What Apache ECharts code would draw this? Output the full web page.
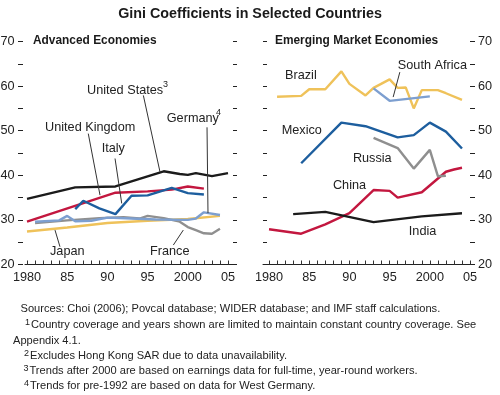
<!DOCTYPE html>
<html><head><meta charset="utf-8">
<script src="https://cdn.jsdelivr.net/npm/echarts@6/dist/echarts.min.js"></script>
<style>html,body{margin:0;padding:0;background:#fff}#c{width:500px;height:395px}</style>
</head><body><div id="c"></div>
<script>
// ---------- Data ----------
const xTickYears = [1980,1981,1982,1983,1984,1985,1986,1987,1988,1989,1990,1991,1992,1993,1994,1995,1996,1997,1998,1999,2000,2001,2002,2003,2004,2005];
const xLabelYears = [1980,1985,1990,1995,2000,2005];
const xLabelText = ['1980','85','90','95','2000','05'];
const yTicks = [20,25,30,35,40,45,50,55,60,65,70];
const yLabelText = ['20','','30','','40','','50','','60','','70'];

// Advanced economies
const usYears = [1980,1986,1991,1997,1999,2000,2001,2003,2005];
const usVals  = [34.7,37.3,37.5,40.9,40.3,40.1,40.5,39.8,40.5];
const ukYears = [1980,1991,1995,1998,2000,2002];
const ukVals  = [29.6,36.1,36.4,36.8,37.5,37.0];
const itYears = [1986,1987,1989,1991,1993,1995,1998,2000,2002];
const itVals  = [32.4,34.3,32.6,31.3,35.4,35.5,37.2,36.0,35.7];
const deYears = [1981,1984,1985,1986,1988,1990,1993,1996,2000,2001,2002,2004];
const deVals  = [29.6,29.9,30.9,29.7,29.8,30.5,30.3,30.1,30.0,30.3,31.7,31.1];
const frYears = [1981,1985,1989,1992,1994,1995,1997,1999,2000,2001,2002,2003,2004];
const frVals  = [29.3,29.9,30.4,30.6,30.3,30.9,30.4,29.6,28.4,27.7,27.0,26.9,28.0];
const jpYears = [1980,1985,1990,1995,2000,2004];
const jpVals  = [27.4,28.3,29.3,29.8,30.2,30.9];

// Emerging market economies
const brYears = [1981,1984,1985,1987,1989,1990,1992,1993,1995,1996,1997,1998,1999,2001,2002,2004];
const brVals  = [57.6,57.8,59.3,59.3,63.3,60.5,57.9,59.6,61.5,59.6,59.7,55.0,59.1,59.1,58.4,56.9];
const zaYears = [1993,1995,2000];
const zaVals  = [59.5,56.7,57.7];
const mxYears = [1984,1989,1992,1996,1998,2000,2002,2004];
const mxVals  = [42.7,51.8,51.0,48.5,49.0,51.8,49.8,46.0];
const ruYears = [1993,1996,1998,2000,2001,2002];
const ruVals  = [48.4,46.1,41.5,45.7,39.8,39.9];
const cnYears = [1980,1984,1987,1990,1993,1995,1996,1999,2002,2003,2004];
const cnVals  = [27.9,26.9,29.0,31.5,36.7,36.5,35.0,36.2,40.8,41.3,41.7];
const inYears = [1983,1987,1993,1999,2004];
const inVals  = [31.3,31.8,29.5,30.8,31.5];

// ---------- Fonts ----------
function hasFont(name){
  const c=document.createElement('canvas').getContext('2d');
  c.font='20px monospace'; const a=c.measureText('United Kingdom Wg 1980').width;
  c.font='20px "'+name+'", monospace'; const b=c.measureText('United Kingdom Wg 1980').width;
  return a!==b;
}
const NARROW = hasFont('Liberation Sans Narrow');
const FF = NARROW ? '"Liberation Sans Narrow", "Liberation Sans", sans-serif' : '"Liberation Sans", Arial, sans-serif';
const K = NARROW ? 1 : 0.82;
const fs = n => Math.round(n*K*10)/10;
const TXT = '#222';

const pairs = (xs, ys) => xs.map((x,i)=>[x, ys[i]]);

const chart = echarts.init(document.getElementById('c'), null, {renderer:'canvas'});

function xAxisCfg(grid, min, max){
  return {
    type:'value', gridIndex:grid, min:min, max:max,
    axisLine:{show:true, lineStyle:{color:'#222', width:1}},
    axisTick:{show:true, inside:true, length:4, customValues:xTickYears, lineStyle:{color:'#333'}},
    minorTick:{show:false},
    axisLabel:{show:true, customValues:xLabelYears, margin:6, color:TXT, fontFamily:FF, fontSize:fs(15.5),
      formatter: v => { const i = xLabelYears.indexOf(Math.round(v)); return i>=0 ? xLabelText[i] : ''; }},
    splitLine:{show:false}
  };
}
function yAxisCfg(grid, pos, offset, showLabel, inside, len, margin){
  return {
    type:'value', gridIndex:grid, position:pos, offset:offset, min:20, max:70, interval:5,
    axisLine:{show:false},
    axisTick:{show:true, inside:inside, length:len, lineStyle:{color:'#222'}},
    axisLabel:{show:showLabel, margin:margin||8, color:TXT, fontFamily:FF, fontSize:fs(15.5),
      formatter: v => { const i = yTicks.indexOf(Math.round(v)); return i>=0 ? yLabelText[i] : ''; }},
    splitLine:{show:false}
  };
}
function line(name, xs, ys, color, xi, yi, z){
  return {name:name, type:'line', xAxisIndex:xi, yAxisIndex:yi, data:pairs(xs,ys), showSymbol:false,
    symbol:'none', smooth:false, z:z||2, lineStyle:{color:color, width:2.4}, itemStyle:{color:color}, animation:false};
}

const C = {black:'#1b1b1b', red:'#c3173f', blue:'#1d5e9e', lblue:'#7d9fd0', gray:'#8f8f8f', yellow:'#efc25a'};

chart.setOption({
  animation:false,
  backgroundColor:'#fff',
  title:{text:'Gini Coefficients in Selected Countries', left:'center', top:2,
    textStyle:{fontFamily:FF, fontWeight:'bold', fontSize:fs(17.4), color:'#1a1a1a'}},
  grid:[
    {left:25, top:41.5, width:210, height:223, containLabel:false, outerBoundsMode:'none'},
    {left:263, top:41.5, width:210, height:223, containLabel:false, outerBoundsMode:'none'}
  ],
  xAxis:[ xAxisCfg(0, 1979.75, 2005.87), xAxisCfg(1, 1979.25, 2005.37) ],
  yAxis:[
    yAxisCfg(0,'left', 2, true, false, 5, 8.5),
    yAxisCfg(0,'right', -2, false, false, 4),
    yAxisCfg(1,'left', 0, false, true, 4),
    yAxisCfg(1,'right', -3, true, false, 5, 8)
  ],
  series:[
    line('Japan', jpYears, jpVals, C.yellow, 0, 0, 2),
    line('France', frYears, frVals, C.gray, 0, 0, 3),
    line('Germany', deYears, deVals, C.lblue, 0, 0, 4),
    line('United Kingdom', ukYears, ukVals, C.red, 0, 0, 5),
    line('Italy', itYears, itVals, C.blue, 0, 0, 6),
    line('United States', usYears, usVals, C.black, 0, 0, 7),
    line('Brazil', brYears, brVals, C.yellow, 1, 3, 2),
    line('South Africa', zaYears, zaVals, C.lblue, 1, 3, 3),
    line('Mexico', mxYears, mxVals, C.blue, 1, 3, 3),
    line('China', cnYears, cnVals, C.red, 1, 3, 4),
    line('Russia', ruYears, ruVals, C.gray, 1, 3, 5),
    line('India', inYears, inVals, C.black, 1, 3, 6)
  ]
});

// ---------- Annotations, anchored in data coordinates ----------
const annLabels = [
  [0, 1987.46, 59.04, 'United States'],
  [0, 1997.38, 52.71, 'Germany'],
  [0, 1982.24, 50.83, 'United Kingdom'],
  [0, 1989.29, 46.00, 'Italy'],
  [0, 1982.86, 22.86, 'Japan'],
  [0, 1995.30, 22.86, 'France'],
  [1, 1981.99, 62.39, 'Brazil'],
  [1, 1996.02, 64.63, 'South Africa'],
  [1, 1981.58, 50.09, 'Mexico'],
  [1, 1990.43, 43.76, 'Russia'],
  [1, 1987.95, 37.79, 'China'],
  [1, 1997.39, 27.34, 'India']
];
const annSup = [
  [0, 1996.92, 60.38, '3'],
  [0, 2003.50, 54.10, '4']
];
const leaders = [
  [0, 1994.47, 57.92, 1996.54, 40.76],
  [0, 2002.39, 50.76, 2002.51, 31.52],
  [0, 1987.62, 49.35, 1989.08, 35.55],
  [0, 1990.95, 43.76, 1991.78, 33.69],
  [0, 1984.10, 23.98, 1983.48, 27.72],
  [0, 1998.20, 24.36, 1999.44, 27.72],
  [1, 1996.27, 63.13, 1995.44, 57.54]
];
function px(panel, yr, v){
  const xi = panel, yi = panel===0 ? 0 : 3;
  return [chart.convertToPixel({xAxisIndex:xi}, yr), chart.convertToPixel({yAxisIndex:yi}, v)];
}
const g = [];
g.push({type:'text', x:33, y:41, style:{text:'Advanced Economies', font:'bold '+fs(14.5)+'px '+FF, fill:'#1a1a1a', verticalAlign:'middle'}});
g.push({type:'text', x:275, y:41, style:{text:'Emerging Market Economies', font:'bold '+fs(14.5)+'px '+FF, fill:'#1a1a1a', verticalAlign:'middle'}});
annLabels.forEach(a=>{ const p=px(a[0],a[1],a[2]);
  g.push({type:'text', x:p[0], y:p[1], z:10, style:{text:a[3], font:fs(15.5)+'px '+FF, fill:TXT, verticalAlign:'middle'}}); });
annSup.forEach(a=>{ const p=px(a[0],a[1],a[2]);
  g.push({type:'text', x:p[0], y:p[1], z:10, style:{text:a[3], font:fs(11)+'px '+FF, fill:TXT, verticalAlign:'middle'}}); });
leaders.forEach(l=>{ const p1=px(l[0],l[1],l[2]), p2=px(l[0],l[3],l[4]);
  g.push({type:'line', z:10, shape:{x1:p1[0],y1:p1[1],x2:p2[0],y2:p2[1]}, style:{stroke:'#333', lineWidth:1}}); });

// Footnotes
const notes = [
  {sup:'', text:'Sources: Choi (2006); Povcal database; WIDER database; and IMF staff calculations.', x:20.5, y:308.5},
  {sup:'1', text:'Country coverage and years shown are limited to maintain constant country coverage. See', x:25, y:325},
  {sup:'', text:'Appendix 4.1.', x:13, y:340.5},
  {sup:'2', text:'Excludes Hong Kong SAR due to data unavailability.', x:24, y:356},
  {sup:'3', text:'Trends after 2000 are based on earnings data for full-time, year-round workers.', x:23.5, y:371},
  {sup:'4', text:'Trends for pre-1992 are based on data for West Germany.', x:24, y:386}
];
const ctx = document.createElement('canvas').getContext('2d');
notes.forEach(n=>{
  let x = n.x;
  if(n.sup){
    const f = fs(11)+'px '+FF; ctx.font = f;
    g.push({type:'text', x:x, y:n.y-2.5, style:{text:n.sup, font:f, fill:TXT, verticalAlign:'middle'}});
    x += ctx.measureText(n.sup).width + 1;
  }
  g.push({type:'text', x:x, y:n.y, style:{text:n.text, font:fs(13.5)+'px '+FF, fill:TXT, verticalAlign:'middle'}});
});
chart.setOption({graphic:g});
</script>
</body></html>
